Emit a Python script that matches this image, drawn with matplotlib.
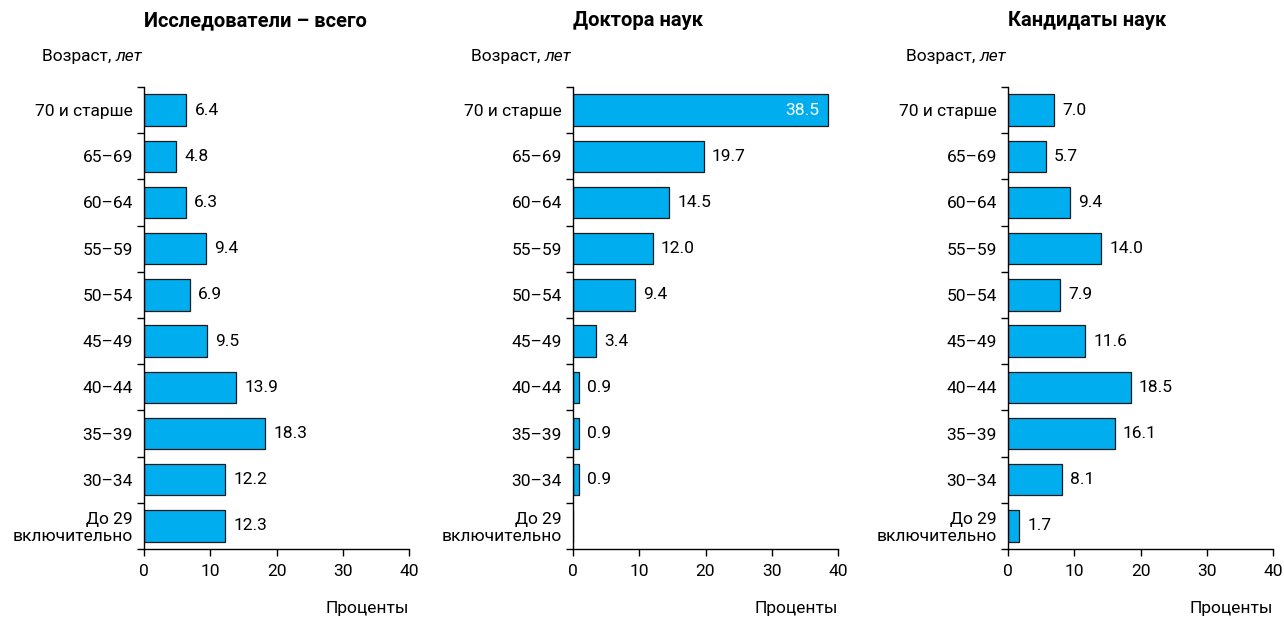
import matplotlib
matplotlib.use('Agg')
import matplotlib.pyplot as plt
from matplotlib.ticker import FixedLocator

plt.rcParams['font.family'] = ['Roboto', 'DejaVu Sans']

# --- data (top to bottom in the picture) ---
age_groups = ['70 и старше', '65–69', '60–64', '55–59', '50–54',
              '45–49', '40–44', '35–39', '30–34', 'До 29\nвключительно']
all_researchers = [6.4, 4.8, 6.3, 9.4, 6.9, 9.5, 13.9, 18.3, 12.2, 12.3]
doctors = [38.5, 19.7, 14.5, 12.0, 9.4, 3.4, 0.9, 0.9, 0.9, 0.0]
candidates = [7.0, 5.7, 9.4, 14.0, 7.9, 11.6, 18.5, 16.1, 8.1, 1.7]

titles = ['Исследователи – всего', 'Доктора наук', 'Кандидаты наук']
series = [all_researchers, doctors, candidates]
x_ticks = [0, 10, 20, 30, 40]

bar_color = '#00AEEF'
fs = 12.5

fig = plt.figure(figsize=(12.84, 6.22), dpi=100)
lefts = [144 / 1284, 573 / 1284, 1008 / 1284]
width = 265 / 1284
bottom = 1 - 549 / 622
height = 462 / 622

n = len(age_groups)
ypos = list(range(n - 1, -1, -1))  # first category at the top

for left, title, vals in zip(lefts, titles, series):
    ax = fig.add_axes([left, bottom, width, height])
    ax.barh(ypos, vals, height=0.68, color=bar_color,
            edgecolor='#1a1a1a', linewidth=0.9, zorder=2)

    # value labels
    for y, v in zip(ypos, vals):
        if v == 0:
            continue
        if v > 35:
            ax.annotate(f'{v:.1f}', xy=(v, y), xytext=(-6, 0),
                        textcoords='offset points', ha='right', va='center',
                        color='white', fontsize=fs)
        else:
            ax.annotate(f'{v:.1f}', xy=(v, y), xytext=(6, 0),
                        textcoords='offset points', ha='left', va='center',
                        fontsize=fs)

    ax.set_xlim(0, 40)
    ax.set_ylim(-0.5, n - 0.5)
    ax.set_xticks(x_ticks)
    ax.tick_params(axis='x', labelsize=fs, length=5, width=1, direction='out', pad=6)

    # ticks between categories, labels at category centres
    ax.yaxis.set_major_locator(FixedLocator([i - 0.5 for i in range(n + 1)]))
    ax.set_yticklabels([])
    ax.yaxis.set_minor_locator(FixedLocator(ypos))
    ax.set_yticklabels(age_groups, minor=True, fontsize=fs, linespacing=1.15)
    ax.tick_params(axis='y', which='major', length=5, width=1, direction='out')
    ax.tick_params(axis='y', which='minor', length=0, pad=8)

    for s in ['top', 'right']:
        ax.spines[s].set_visible(False)
    for s in ['left', 'bottom']:
        ax.spines[s].set_linewidth(1)

    ax.annotate(title, xy=(0, 1), xycoords='axes fraction', xytext=(0, 48),
                textcoords='offset points', ha='left', va='center',
                fontsize=14.5, weight='bold')

    t = ax.annotate('лет', xy=(0, 1), xycoords='axes fraction', xytext=(-1, 22),
                    textcoords='offset points', ha='right', va='center',
                    fontsize=fs, style='italic')
    ax.annotate('Возраст, ', xy=(0, 0), xycoords=t, ha='right', va='bottom',
                fontsize=fs)

    ax.annotate('Проценты', xy=(1, 0), xycoords='axes fraction', xytext=(0, -43),
                textcoords='offset points', ha='right', va='center', fontsize=fs)

fig.savefig('out.png', dpi=100)
